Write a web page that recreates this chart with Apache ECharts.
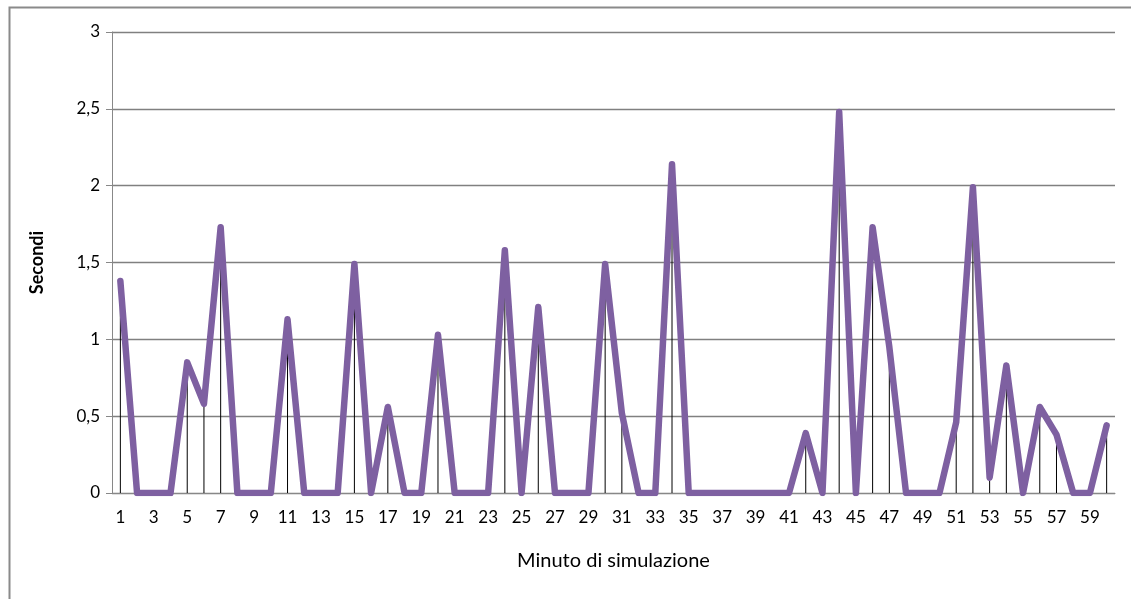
<!DOCTYPE html>
<html>
<head>
<meta charset="utf-8">
<script src="https://cdn.jsdelivr.net/npm/echarts@6/dist/echarts.min.js"></script>
<style>
html,body{margin:0;padding:0;background:#fff;}
#chart{width:1131px;height:599px;}
</style>
</head>
<body>
<div id="chart"></div>
<script>
const minutes = Array.from({length: 60}, (_, i) => String(i + 1));
const seconds = [
  1.38, 0, 0, 0, 0.85, 0.58, 1.73, 0, 0, 0,
  1.13, 0, 0, 0, 1.49, 0, 0.56, 0, 0, 1.03,
  0, 0, 0, 1.58, 0, 1.21, 0, 0, 0, 1.49,
  0.52, 0, 0, 2.14, 0, 0, 0, 0, 0, 0,
  0, 0.39, 0, 2.48, 0, 1.73, 0.95, 0, 0, 0,
  0.46, 1.99, 0.10, 0.83, 0, 0.56, 0.38, 0, 0, 0.44
];
const yTicks = [0, 0.5, 1, 1.5, 2, 2.5, 3];

const chart = echarts.init(document.getElementById('chart'));
chart.setOption({
  animation: false,
  backgroundColor: '#fff',
  textStyle: {fontFamily: 'Lato'},
  graphic: [{
    type: 'rect', left: 7, top: 5, shape: {x: 0, y: 0, width: 1200, height: 700},
    style: {fill: 'none', stroke: '#8a8a8a', lineWidth: 2}, silent: true, z: -10
  }],
  grid: {left: 112, right: 16, top: 32, bottom: 106},
  xAxis: {
    type: 'category',
    data: minutes,
    boundaryGap: true,
    name: 'Minuto di simulazione',
    nameLocation: 'middle',
    nameGap: 58,
    nameTextStyle: {fontFamily: 'Lato', fontSize: 20, color: '#000'},
    axisLine: {lineStyle: {color: '#888', width: 1}},
    axisTick: {show: false},
    axisLabel: {interval: 1, fontFamily: 'Lato', fontSize: 17, color: '#000', margin: 16}
  },
  yAxis: {
    type: 'value',
    min: yTicks[0],
    max: yTicks[yTicks.length - 1],
    interval: 0.5,
    name: 'Secondi',
    nameLocation: 'middle',
    nameGap: 66,
    nameTextStyle: {fontFamily: 'Lato', fontSize: 18, fontWeight: 'bold', color: '#000'},
    axisLine: {show: true, lineStyle: {color: '#888', width: 1}},
    axisTick: {show: true, length: 6, lineStyle: {color: '#888'}},
    splitLine: {lineStyle: {color: '#808080', width: 1.3}},
    axisLabel: {
      fontFamily: 'Lato', fontSize: 17, color: '#000', margin: 12,
      formatter: v => String(v).replace('.', ',')
    }
  },
  series: [
    {
      type: 'bar',
      data: seconds,
      barWidth: 1,
      itemStyle: {color: '#000'},
      z: 1,
      silent: true
    },
    {
      type: 'line',
      data: seconds,
      showSymbol: false,
      symbol: 'none',
      lineStyle: {color: '#7E60A1', width: 6.5, cap: 'round', join: 'round'},
      z: 3,
      silent: true
    }
  ]
});
</script>
</body>
</html>
